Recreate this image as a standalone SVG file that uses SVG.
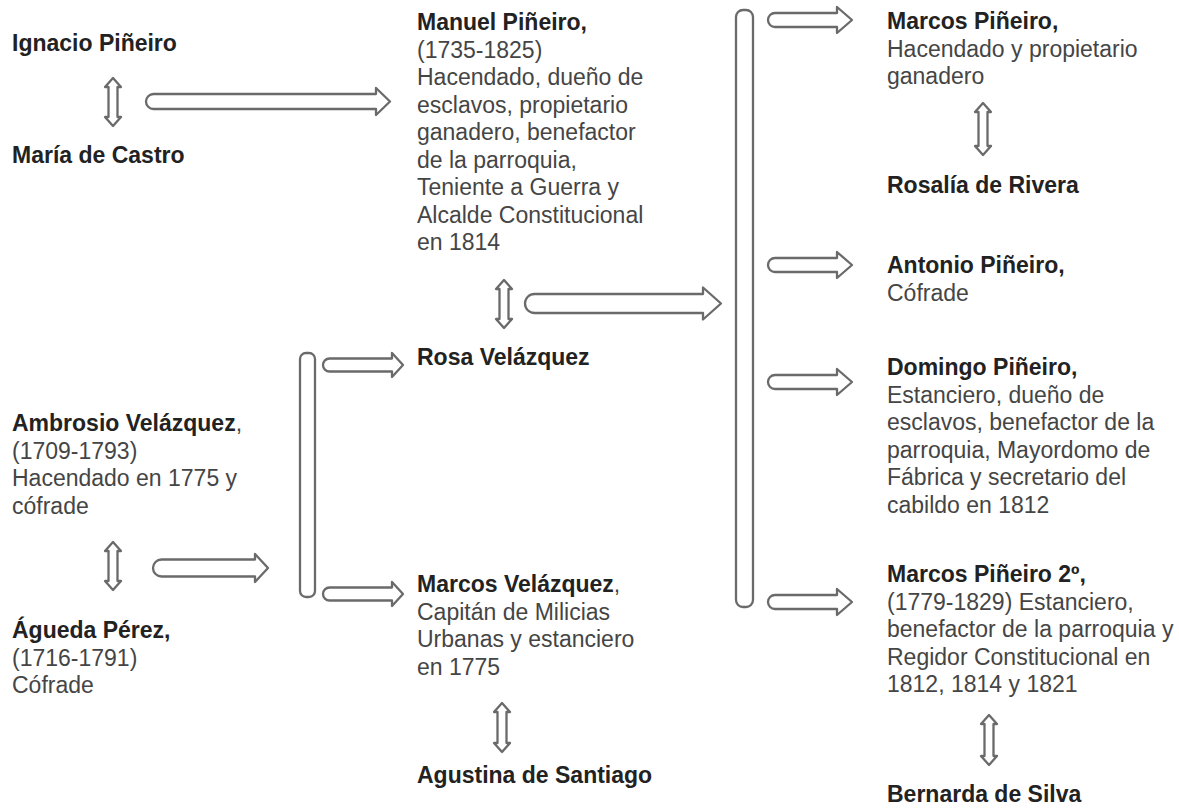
<svg xmlns="http://www.w3.org/2000/svg" width="1179" height="810" viewBox="0 0 1179 810">
<style>
text{font-family:"Liberation Sans",Arial,sans-serif;font-size:23px}
.b{font-weight:bold;fill:#222}
.t{fill:#454545}
.n{font-weight:normal;fill:#454545}
.ar{fill:#fff;stroke:#6a6a6a;stroke-width:2.3;stroke-linejoin:round}
</style>
<defs>
<path id="rArrow" d="M775,-7 L837,-7 L837,-13 L852,0 L837,13 L837,7 L775,7 A7,7 0 0 1 775,-7 Z"/>
<path id="lArrow" d="M329.5,-6.5 L392,-6.5 L392,-12 L403,0 L392,12 L392,6.5 L329.5,6.5 A6.5,6.5 0 0 1 329.5,-6.5 Z"/>
</defs>
<rect width="1179" height="810" fill="#fff"/>
<g id="connectors" class="ar">
<path d="M153.5,94 L376,94 L376,88 L390,101.5 L376,115 L376,109 L153.5,109 A7.5,7.5 0 0 1 153.5,94 Z"/>
<path d="M534.5,294 L703,294 L703,287.5 L721,303.5 L703,319.5 L703,313 L534.5,313 A9.5,9.5 0 0 1 534.5,294 Z"/>
<path d="M161.5,559.5 L255,559.5 L255,554 L268,568 L255,582 L255,576.5 L161.5,576.5 A8.5,8.5 0 0 1 161.5,559.5 Z"/>
<rect x="300" y="353" width="15" height="244" rx="6"/>
<rect x="736" y="10" width="17" height="597" rx="7"/>
<use href="#lArrow" transform="translate(0,365)"/>
<use href="#lArrow" transform="translate(0,594)"/>
<use href="#rArrow" transform="translate(0,20)"/>
<use href="#rArrow" transform="translate(0,265)"/>
<use href="#rArrow" transform="translate(0,382)"/>
<use href="#rArrow" transform="translate(0,602)"/>
<path transform="translate(113,78)" d="M0,0 l8,9 h-3.5 v30 h3.5 l-8,9 l-8,-9 h3.5 v-30 h-3.5 Z"/>
<path transform="translate(504,280)" d="M0,0 l8,9 h-3.5 v30 h3.5 l-8,9 l-8,-9 h3.5 v-30 h-3.5 Z"/>
<path transform="translate(113,542)" d="M0,0 l8,9 h-3.5 v30 h3.5 l-8,9 l-8,-9 h3.5 v-30 h-3.5 Z"/>
<path transform="translate(502,703)" d="M0,0 l8,9 h-3.5 v31 h3.5 l-8,9 l-8,-9 h3.5 v-31 h-3.5 Z"/>
<path transform="translate(983,103)" d="M0,0 l8,9 h-3.5 v34 h3.5 l-8,9 l-8,-9 h3.5 v-34 h-3.5 Z"/>
<path transform="translate(989,715)" d="M0,0 l8,9 h-3.5 v32 h3.5 l-8,9 l-8,-9 h3.5 v-32 h-3.5 Z"/>
</g>
<g id="ignacio"><text x="12" y="51" class="b">Ignacio Piñeiro</text></g>
<g id="maria"><text x="12" y="163" class="b">María de Castro</text></g>
<g id="ambrosio">
<text x="12" y="431" class="b">Ambrosio Velázquez<tspan class="n">,</tspan></text>
<text x="12" y="458.5" class="t">(1709-1793)</text>
<text x="12" y="486" class="t">Hacendado en 1775 y</text>
<text x="12" y="513.5" class="t">cófrade</text>
</g>
<g id="agueda">
<text x="12" y="638" class="b">Águeda Pérez,</text>
<text x="12" y="665.5" class="t">(1716-1791)</text>
<text x="12" y="693" class="t">Cófrade</text>
</g>
<g id="manuel">
<text x="417" y="30" class="b">Manuel Piñeiro,</text>
<text x="417" y="57.5" class="t">(1735-1825)</text>
<text x="417" y="85" class="t">Hacendado, dueño de</text>
<text x="417" y="112.5" class="t">esclavos, propietario</text>
<text x="417" y="140" class="t">ganadero, benefactor</text>
<text x="417" y="167.5" class="t">de la parroquia,</text>
<text x="417" y="195" class="t">Teniente a Guerra y</text>
<text x="417" y="222.5" class="t">Alcalde Constitucional</text>
<text x="417" y="250" class="t">en 1814</text>
</g>
<g id="rosa"><text x="417" y="365" class="b">Rosa Velázquez</text></g>
<g id="marcosV">
<text x="417" y="592" class="b">Marcos Velázquez<tspan class="n">,</tspan></text>
<text x="417" y="619.5" class="t">Capitán de Milicias</text>
<text x="417" y="647" class="t">Urbanas y estanciero</text>
<text x="417" y="674.5" class="t">en 1775</text>
</g>
<g id="agustina"><text x="417" y="783" class="b">Agustina de Santiago</text></g>
<g id="marcosP">
<text x="887" y="29" class="b">Marcos Piñeiro,</text>
<text x="887" y="56.5" class="t">Hacendado y propietario</text>
<text x="887" y="84" class="t">ganadero</text>
</g>
<g id="rosalia"><text x="887" y="193" class="b">Rosalía de Rivera</text></g>
<g id="antonio">
<text x="887" y="273" class="b">Antonio Piñeiro,</text>
<text x="887" y="300.5" class="t">Cófrade</text>
</g>
<g id="domingo">
<text x="887" y="375" class="b">Domingo Piñeiro,</text>
<text x="887" y="402.5" class="t">Estanciero, dueño de</text>
<text x="887" y="430" class="t">esclavos, benefactor de la</text>
<text x="887" y="457.5" class="t">parroquia, Mayordomo de</text>
<text x="887" y="485" class="t">Fábrica y secretario del</text>
<text x="887" y="512.5" class="t">cabildo en 1812</text>
</g>
<g id="marcos2">
<text x="887" y="582" class="b">Marcos Piñeiro 2º,</text>
<text x="887" y="609.5" class="t">(1779-1829) Estanciero,</text>
<text x="887" y="637" class="t">benefactor de la parroquia y</text>
<text x="887" y="664.5" class="t">Regidor Constitucional en</text>
<text x="887" y="692" class="t">1812, 1814 y 1821</text>
</g>
<g id="bernarda"><text x="887" y="802" class="b">Bernarda de Silva</text></g>
</svg>
